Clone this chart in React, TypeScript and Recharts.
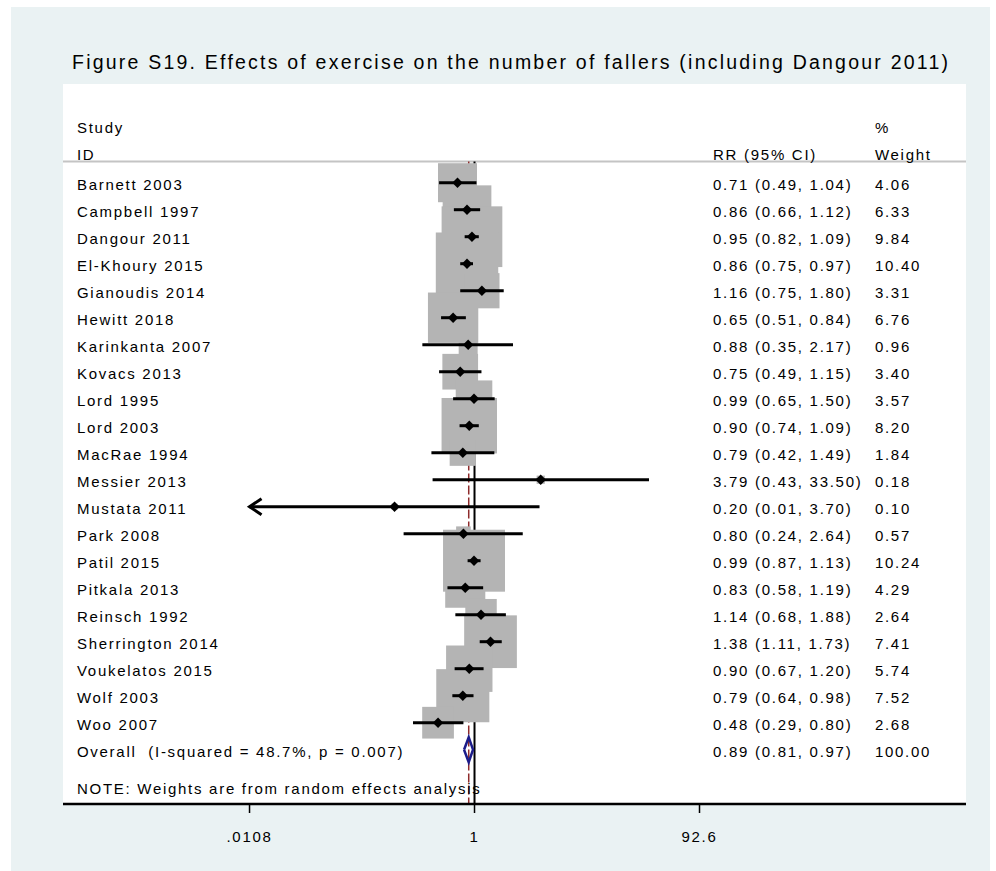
import React from 'react';
import { ComposedChart, XAxis, YAxis, Scatter, Line, ErrorBar, CartesianGrid, ReferenceLine } from 'recharts';

// ---------------- data ----------------
const titleText = 'Figure S19. Effects of exercise on the number of fallers (including Dangour 2011)';
const studies = [
  'Barnett 2003', 'Campbell 1997', 'Dangour 2011', 'El-Khoury 2015', 'Gianoudis 2014',
  'Hewitt 2018', 'Karinkanta 2007', 'Kovacs 2013', 'Lord 1995', 'Lord 2003',
  'MacRae 1994', 'Messier 2013', 'Mustata 2011', 'Park 2008', 'Patil 2015',
  'Pitkala 2013', 'Reinsch 1992', 'Sherrington 2014', 'Voukelatos 2015', 'Wolf 2003', 'Woo 2007',
];
const rr = [0.71, 0.86, 0.95, 0.86, 1.16, 0.65, 0.88, 0.75, 0.99, 0.90, 0.79, 3.79, 0.20, 0.80, 0.99, 0.83, 1.14, 1.38, 0.90, 0.79, 0.48];
const ciLow = [0.49, 0.66, 0.82, 0.75, 0.75, 0.51, 0.35, 0.49, 0.65, 0.74, 0.42, 0.43, 0.01, 0.24, 0.87, 0.58, 0.68, 1.11, 0.67, 0.64, 0.29];
const ciHigh = [1.04, 1.12, 1.09, 0.97, 1.80, 0.84, 2.17, 1.15, 1.50, 1.09, 1.49, 33.50, 3.70, 2.64, 1.13, 1.19, 1.88, 1.73, 1.20, 0.98, 0.80];
const weights = [4.06, 6.33, 9.84, 10.40, 3.31, 6.76, 0.96, 3.40, 3.57, 8.20, 1.84, 0.18, 0.10, 0.57, 10.24, 4.29, 2.64, 7.41, 5.74, 7.52, 2.68];

const overallLabel = 'Overall  (I-squared = 48.7%, p = 0.007)';
const overallRR = 0.89;
const overallLow = 0.81;
const overallHigh = 0.97;
const overallWeight = 100;

const headerStudy = ['Study', 'ID'];
const headerRR = 'RR (95% CI)';
const headerWeight = ['%', 'Weight'];
const noteText = 'NOTE: Weights are from random effects analysis';

const tickValues = [0.0108, 1, 92.6];
const tickLabels = ['.0108', '1', '92.6'];

// ---------------- layout / style ----------------
const W = 996;
const H = 871;
const X_MIN = -3.597;
const X_MAX = 4.296;
const Y_MIN = -3.656;
const Y_MAX = 23.011;
const COL_STUDY = -3.475;
const COL_RR = 2.085;
const COL_W = 3.5;
const SEP_ROW = -0.785;
const HEADER_ROW0 = -2.12;
const NOTE_ROW = 22.38;
const OVERALL_ROW = studies.length;
const DIAMOND_HALF_ROWS = 0.463;
const BOX_K = 19.36;
const FONT = "'Liberation Sans', Arial, Helvetica, sans-serif";
const TEXT_SIZE = 15;
const TEXT_SPACING = 1.72;
const TEXT_DY = 7.5;

const lg = (v: number) => Math.log10(v);
const axisMin = tickValues[0];
const axisMax = tickValues[tickValues.length - 1];

const f2 = (v: number) => v.toFixed(2);

const studyPoints = studies.map((s, i) => {
  const lx = lg(rr[i]);
  const lo = lg(Math.max(ciLow[i], axisMin));
  const hi = lg(Math.min(ciHigh[i], axisMax));
  return { lx, row: i, w: weights[i], err: [lx - lo, hi - lx] };
});

const arrowPoints = studies
  .map((s, i) => ({ lx: lg(axisMin), row: i, show: ciLow[i] < axisMin }))
  .filter((p) => p.show);

const textPoints: { lx: number; row: number; text: string }[] = [];
headerStudy.forEach((t, k) => textPoints.push({ lx: COL_STUDY, row: HEADER_ROW0 + k, text: t }));
headerWeight.forEach((t, k) => textPoints.push({ lx: COL_W, row: HEADER_ROW0 + k, text: t }));
textPoints.push({ lx: COL_RR, row: HEADER_ROW0 + 1, text: headerRR });
studies.forEach((s, i) => {
  textPoints.push({ lx: COL_STUDY, row: i, text: s });
  textPoints.push({ lx: COL_RR, row: i, text: `${f2(rr[i])} (${f2(ciLow[i])}, ${f2(ciHigh[i])})` });
  textPoints.push({ lx: COL_W, row: i, text: f2(weights[i]) });
});
textPoints.push({ lx: COL_STUDY, row: OVERALL_ROW, text: overallLabel });
textPoints.push({ lx: COL_RR, row: OVERALL_ROW, text: `${f2(overallRR)} (${f2(overallLow)}, ${f2(overallHigh)})` });
textPoints.push({ lx: COL_W, row: OVERALL_ROW, text: f2(overallWeight) });
textPoints.push({ lx: COL_STUDY, row: NOTE_ROW, text: noteText });

const nullLine = [
  { lx: lg(1), row: SEP_ROW },
  { lx: lg(1), row: Y_MAX },
];
const overallLine = [
  { lx: lg(overallRR), row: SEP_ROW },
  { lx: lg(overallRR), row: Y_MAX },
];
const overallDiamond = [
  { lx: lg(overallLow), row: OVERALL_ROW },
  { lx: lg(overallRR), row: OVERALL_ROW - DIAMOND_HALF_ROWS },
  { lx: lg(overallHigh), row: OVERALL_ROW },
  { lx: lg(overallRR), row: OVERALL_ROW + DIAMOND_HALF_ROWS },
  { lx: lg(overallLow), row: OVERALL_ROW },
];

const BoxShape = (props: any) => {
  const { cx, cy, payload } = props;
  const s = BOX_K * Math.sqrt(payload.w);
  return <rect x={cx - s / 2} y={cy - s / 2} width={s} height={s} fill="#b4b4b4" />;
};

const DiamondShape = (props: any) => {
  const { cx, cy } = props;
  const r = 5.2;
  return <polygon points={`${cx - r},${cy} ${cx},${cy - r} ${cx + r},${cy} ${cx},${cy + r}`} fill="#000" />;
};

const ArrowShape = (props: any) => {
  const { cx, cy } = props;
  return (
    <polyline
      points={`${cx + 12},${cy - 8} ${cx},${cy} ${cx + 12},${cy + 8}`}
      fill="none"
      stroke="#000"
      strokeWidth={3}
    />
  );
};

const TextShape = (props: any) => {
  const { cx, cy, payload } = props;
  return (
    <text
      x={cx}
      y={cy + TEXT_DY}
      fontFamily={FONT}
      fontSize={TEXT_SIZE}
      letterSpacing={TEXT_SPACING}
      fill="#000"
      style={{ whiteSpace: 'pre' }}
    >
      {payload.text}
    </text>
  );
};

const tickFmt = (v: number) => {
  const k = tickValues.findIndex((t) => Math.abs(lg(t) - v) < 1e-9);
  return k >= 0 ? tickLabels[k] : '';
};

export default function App() {
  return (
    <div style={{ position: 'absolute', left: 0, top: 0, width: W, height: H, background: '#ffffff', overflow: 'hidden' }}>
      <div style={{ position: 'absolute', left: 11, top: 7, width: 979, height: 864, background: '#eaf2f3' }} />
      <svg width={W} height={90} style={{ position: 'absolute', left: 0, top: 0 }}>
        <text
          x={72}
          y={69}
          fontFamily={FONT}
          fontSize={19.5}
          fill="#000"
          textLength={876}
          lengthAdjust="spacing"
        >
          {titleText}
        </text>
      </svg>
      <div style={{ position: 'absolute', left: 0, top: 0 }}>
        <ComposedChart width={W} height={H} margin={{ top: 84, right: 30, bottom: 27, left: 63 }}>
          <CartesianGrid fill="#ffffff" horizontal={false} vertical={false} />
          <XAxis
            type="number"
            dataKey="lx"
            domain={[X_MIN, X_MAX]}
            allowDataOverflow
            ticks={tickValues.map(lg)}
            interval={0}
            tickFormatter={tickFmt}
            height={40}
            axisLine={{ stroke: '#000', strokeWidth: 2.5 }}
            tickLine={{ stroke: '#000', strokeWidth: 1.5 }}
            tickSize={9}
            tickMargin={18}
            tick={{ fontSize: 15, fill: '#000', fontFamily: FONT, letterSpacing: TEXT_SPACING }}
          />
          <YAxis type="number" dataKey="row" domain={[Y_MIN, Y_MAX]} allowDataOverflow reversed hide width={0} />
          <ReferenceLine y={SEP_ROW} stroke="#c4c4c4" strokeWidth={2} zIndex={50} />
          <Line data={nullLine} dataKey="row" stroke="#000" strokeWidth={2} dot={false} isAnimationActive={false} zIndex={100} />
          <Line
            data={overallLine}
            dataKey="row"
            stroke="#8e2b2b"
            strokeWidth={1.5}
            strokeDasharray="9 3"
            dot={false}
            isAnimationActive={false}
            zIndex={100}
          />
          <Scatter data={studyPoints} shape={BoxShape} isAnimationActive={false} zIndex={200} />
          <Scatter data={studyPoints} shape={DiamondShape} isAnimationActive={false} zIndex={700}>
            <ErrorBar dataKey="err" direction="x" width={0} stroke="#000" strokeWidth={3} zIndex={650} />
          </Scatter>
          <Scatter data={arrowPoints} shape={ArrowShape} isAnimationActive={false} zIndex={700} />
          <Line
            data={overallDiamond}
            dataKey="row"
            stroke="#1c1c8a"
            strokeWidth={2.5}
            dot={false}
            type="linear"
            isAnimationActive={false}
            zIndex={700}
          />
          <Scatter data={textPoints} shape={TextShape} isAnimationActive={false} zIndex={800} />
        </ComposedChart>
      </div>
    </div>
  );
}
